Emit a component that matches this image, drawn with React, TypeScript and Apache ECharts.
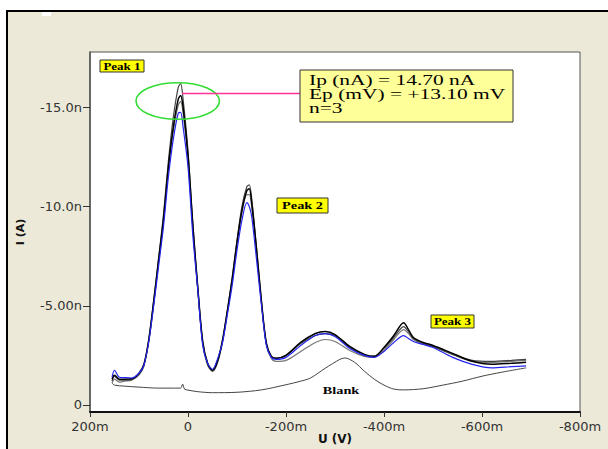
import React, { useEffect, useRef } from "react";
import * as echarts from "echarts";

// Potential (mV) shared by the three replicate scans and the blue scan
const potential = [155, 150, 140, 130, 115, 100, 90, 80, 70, 60, 50, 40, 30, 20, 15, 10, 0, -10, -20, -30, -40, -50, -60, -70, -80, -90, -100, -110, -120, -125, -130, -140, -150, -160, -170, -180, -200, -230, -260, -280, -300, -330, -360, -380, -400, -420, -440, -450, -460, -480, -500, -540, -580, -620, -660, -690];

// Currents (nA)
const scanBlue = [-1.4, -1.75, -1.4, -1.38, -1.36, -1.6, -2.0, -3.2, -5.0, -7.0, -9.0, -11.5, -13.4, -14.7, -14.75, -14.0, -12.0, -8.5, -5.8, -3.0, -2.1, -1.8, -2.3, -3.1, -4.5, -6.0, -7.8, -9.3, -10.2, -10.0, -9.5, -7.3, -5.0, -3.0, -2.4, -2.3, -2.4, -3.0, -3.5, -3.6, -3.45, -2.85, -2.5, -2.4, -2.7, -3.15, -3.5, -3.35, -3.2, -3.05, -2.9, -2.4, -2.05, -1.87, -1.93, -1.97];
const scan1 = [-1.3, -1.5, -1.3, -1.3, -1.32, -1.6, -2.05, -3.3, -5.2, -7.3, -9.4, -12.0, -14.0, -15.4, -15.6, -15.0, -12.6, -9.0, -5.9, -3.2, -2.1, -1.75, -2.2, -3.2, -4.7, -6.3, -8.2, -9.8, -10.8, -10.9, -10.2, -7.8, -5.2, -3.1, -2.45, -2.35, -2.5, -3.15, -3.6, -3.7, -3.55, -2.95, -2.55, -2.45, -2.9, -3.5, -4.15, -3.8, -3.4, -3.15, -3.0, -2.6, -2.2, -2.05, -2.1, -2.15];
const scan2 = [-1.2, -1.45, -1.25, -1.25, -1.28, -1.55, -2.0, -3.3, -5.3, -7.4, -9.6, -12.3, -14.5, -16.0, -16.2, -15.4, -12.8, -9.1, -5.9, -3.2, -2.1, -1.7, -2.15, -3.2, -4.7, -6.4, -8.3, -10.0, -11.0, -11.1, -10.4, -7.9, -5.2, -3.1, -2.45, -2.35, -2.5, -3.1, -3.5, -3.6, -3.5, -2.9, -2.5, -2.45, -2.85, -3.4, -3.95, -3.7, -3.35, -3.1, -2.95, -2.55, -2.25, -2.2, -2.25, -2.3];
const scan3 = [-1.1, -1.3, -1.15, -1.2, -1.25, -1.5, -1.95, -3.2, -5.1, -7.2, -9.3, -11.9, -13.8, -15.1, -15.3, -14.7, -12.4, -8.9, -5.8, -3.1, -2.0, -1.7, -2.1, -3.1, -4.6, -6.2, -8.1, -9.7, -10.6, -10.6, -10.0, -7.7, -5.1, -3.0, -2.35, -2.2, -2.25, -2.7, -3.15, -3.3, -3.2, -2.75, -2.45, -2.4, -2.75, -3.3, -3.8, -3.6, -3.3, -3.05, -2.95, -2.55, -2.2, -2.15, -2.2, -2.25];

// Blank scan
const blankPotential = [155, 150, 130, 100, 60, 30, 15, 11, 7, 0, -20, -50, -100, -150, -200, -230, -250, -280, -310, -320, -340, -360, -380, -400, -420, -440, -480, -520, -560, -600, -640, -690];
const blankCurrent = [-1.1, -1.0, -0.95, -0.9, -0.85, -0.85, -0.85, -1.05, -0.8, -0.75, -0.67, -0.62, -0.64, -0.76, -1.02, -1.2, -1.36, -1.85, -2.3, -2.37, -2.15, -1.7, -1.3, -1.0, -0.8, -0.76, -0.82, -1.0, -1.2, -1.45, -1.65, -1.87];

// Axis ticks
const yTicks = [-15, -10, -5, 0];

const xAxisTitle = "U (V)";
const yAxisTitle = "I (A)";
const peakLabels = ["Peak 1", "Peak 2", "Peak 3"];
const infoLines = ["Ip (nA) = 14.70 nA", "Ep (mV) = +13.10 mV", "n=3"];

const pair = (xs: number[], ys: number[]) => xs.map((x, i) => [x, ys[i]]);

export default function App() {
  const ref = useRef<HTMLDivElement>(null);
  useEffect(() => {
    if (!ref.current) return;
    const chart = echarts.init(ref.current, undefined, { renderer: "svg" });
    const lineSeries = (name: string, data: number[][], color: string, width: number) => ({
      name,
      type: "line",
      data,
      smooth: 0.3,
      showSymbol: false,
      symbol: "none",
      lineStyle: { color, width },
      z: 3,
    });
    const serif = "'Liberation Serif', 'DejaVu Serif', serif";
    const sans = "'DejaVu Sans', sans-serif";
    const labelBox = (x: number, y: number, w: number, h: number, text: string, fs: number) => ({
      type: "group",
      z: 100,
      children: [
        { type: "rect", shape: { x, y, width: w, height: h }, style: { fill: "#FFFF00", stroke: "#333", lineWidth: 1 } },
        {
          type: "text",
          x: x + w / 2,
          y: y + h / 2 + 0.5,
          scaleX: 1.3,
          style: { text, fill: "#000", font: `bold ${fs}px ${serif}`, align: "center", verticalAlign: "middle" },
        },
      ],
    });
    const option: any = {
      animation: false,
      backgroundColor: "#ECE9D8",
      grid: {
        left: 90,
        top: 52,
        width: 490,
        height: 360,
        show: true,
        backgroundColor: "#fff",
        borderColor: "#555",
        borderWidth: 1,
        containLabel: false,
        outerBoundsMode: "none",
      },
      xAxis: {
        type: "value",
        inverse: true,
        min: -800,
        max: 200,
        interval: 200,
        axisLine: { show: true, onZero: false, lineStyle: { color: "#111", width: 2 } },
        axisTick: { show: true, length: 5, lineStyle: { color: "#333" } },
        axisLabel: {
          color: "#333",
          fontFamily: sans,
          fontSize: 13,
          margin: 8,
          showMinLabel: true,
          showMaxLabel: true,
          formatter: (v: number) => (v === 0 ? "0" : `${v}m`),
        },
        splitLine: { show: false },
      },
      yAxis: {
        type: "value",
        inverse: true,
        min: -17.79,
        max: 0.354,
        name: yAxisTitle,
        nameLocation: "middle",
        nameGap: 64,
        nameRotate: 90,
        nameTextStyle: { fontFamily: sans, fontWeight: "bold", fontSize: 11, color: "#111" },
        axisLine: { show: true, onZero: false, lineStyle: { color: "#555", width: 1.5 } },
        axisTick: { show: true, length: 7, customValues: yTicks, lineStyle: { color: "#333" } },
        axisLabel: {
          customValues: yTicks,
          color: "#333",
          fontFamily: sans,
          fontSize: 13,
          margin: 8,
          verticalAlign: "middle",
          padding: [0, 0, 7, 0],
          formatter: (v: number) => (v === 0 ? "0" : `${Math.abs(v) >= 10 ? v.toFixed(1) : v.toFixed(2)}n`),
        },
        splitLine: { show: false },
      },
      series: [
        lineSeries("Blank", pair(blankPotential, blankCurrent), "#444", 1),
        lineSeries("Scan 3", pair(potential, scan3), "#777", 1.2),
        lineSeries("Scan 2", pair(potential, scan2), "#444", 1.2),
        lineSeries("Scan 1", pair(potential, scan1), "#000", 1.5),
        lineSeries("Scan blue", pair(potential, scanBlue), "#2424F0", 1.2),
      ],
      graphic: [
        { type: "rect", z: 100, shape: { x: 0, y: 0, width: 608, height: 10 }, style: { fill: "#fff" } },
        { type: "rect", z: 100, shape: { x: 0, y: 0, width: 6, height: 449 }, style: { fill: "#fff" } },
        { type: "rect", z: 100, shape: { x: 6, y: 10, width: 602, height: 2 }, style: { fill: "#000" } },
        { type: "rect", z: 100, shape: { x: 6, y: 10, width: 2, height: 439 }, style: { fill: "#000" } },
        { type: "rect", z: 100, shape: { x: 42, y: 12, width: 9, height: 4 }, style: { fill: "#fff" } },
        {
          type: "text",
          z: 100,
          x: 335,
          y: 439,
          style: { text: xAxisTitle, fill: "#111", font: `bold 12px ${sans}`, align: "center", verticalAlign: "middle" },
        },
        labelBox(100, 60, 44, 12, peakLabels[0], 10),
        labelBox(277, 198, 51, 15, peakLabels[1], 11),
        labelBox(431, 315, 43, 13, peakLabels[2], 10),
        {
          type: "text",
          z: 100,
          x: 341,
          y: 391,
          scaleX: 1.3,
          style: { text: "Blank", fill: "#000", font: `bold 11px ${serif}`, align: "center", verticalAlign: "middle" },
        },
        {
          type: "ellipse",
          z: 100,
          shape: { cx: 177.7, cy: 101, rx: 41.7, ry: 18.3 },
          style: { fill: "none", stroke: "#33DD33", lineWidth: 1.6 },
        },
        {
          type: "line",
          z: 100,
          shape: { x1: 182, y1: 93.5, x2: 301, y2: 93.5 },
          style: { stroke: "#FF3399", lineWidth: 1.5 },
        },
        {
          type: "rect",
          z: 100,
          shape: { x: 300, y: 70, width: 213, height: 52 },
          style: { fill: "#FFFF99", stroke: "#333", lineWidth: 1 },
        },
        ...infoLines.map((t, i) => ({
          type: "text",
          z: 101,
          x: 309,
          y: [80.5, 94, 108][i],
          scaleX: 1.43,
          style: { text: t, fill: "#000", font: `15px ${serif}`, align: "left", verticalAlign: "middle" },
        })),
      ],
    };
    chart.setOption(option);
    return () => chart.dispose();
  }, []);
  return <div ref={ref} style={{ position: "fixed", left: 0, top: 0, width: 608, height: 449 }} />;
}
